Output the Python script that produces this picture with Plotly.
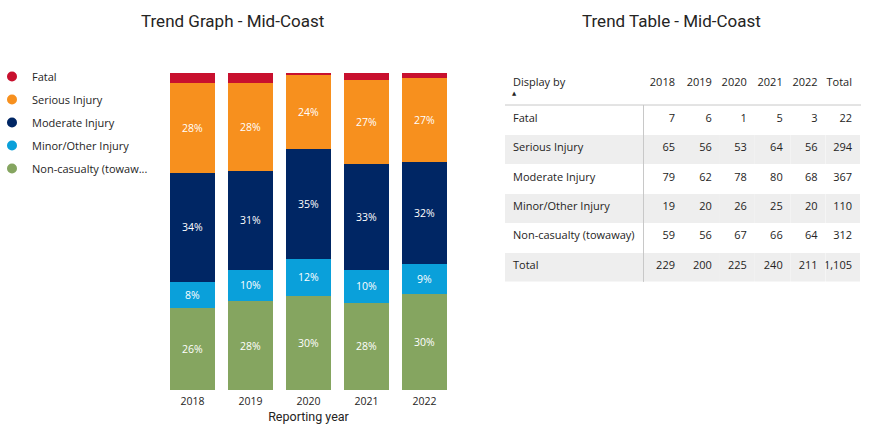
import plotly.graph_objects as go

years = ["2018", "2019", "2020", "2021", "2022"]
categories = ["Fatal", "Serious Injury", "Moderate Injury", "Minor/Other Injury", "Non-casualty\u00a0(towaway)"]
legend_names = ["Fatal", "Serious Injury", "Moderate Injury", "Minor/Other Injury", "Non-casualty (towaw..."]
fatal = [7, 6, 1, 5, 3]
serious = [65, 56, 53, 64, 56]
moderate = [79, 62, 78, 80, 68]
minor = [19, 20, 26, 25, 20]
noncas = [59, 56, 67, 66, 64]
colors = ["#C8102E", "#F7901E", "#002664", "#0AA0DA", "#85A560"]

series = [fatal, serious, moderate, minor, noncas]
totals = [sum(v) for v in zip(*series)]

W, H = 869, 434
FONT = "Open Sans"
TXT = "#252423"

fig = go.Figure()

# stacked bars: bottom-most first
for idx in [4, 3, 2, 1, 0]:
    vals = series[idx]
    txt = [f"{round(v / t * 100)}%" if idx != 0 else "" for v, t in zip(vals, totals)]
    fig.add_trace(go.Bar(
        x=years, y=vals, name=legend_names[idx], marker=dict(color=colors[idx], line=dict(width=0)),
        text=txt, textposition="inside", insidetextanchor="middle",
        textfont=dict(color="white", size=10.5, family=FONT),
        showlegend=False, legendgroup=str(idx),
    ))

# legend entries with circular markers
for idx in range(5):
    fig.add_trace(go.Scatter(
        x=[None], y=[None], mode="markers", name=legend_names[idx],
        marker=dict(color=colors[idx], size=10, symbol="circle"),
        legendgroup=str(idx), showlegend=True,
    ))

# table
header_vals = ["Display by"] + years + ["Total"]
col_first = categories + ["Total"]
cols = [col_first]
for j in range(5):
    cols.append([f"{series[i][j]:,}" for i in range(5)] + [f"{totals[j]:,}"])
cols.append([f"{sum(series[i]):,}" for i in range(5)] + [f"{sum(totals):,}"])
row_fill = ["white", "#EEEEEE", "white", "#EEEEEE", "white", "#EEEEEE"]

tx0, tx1 = 505 / W, 861 / W
ty_top, hdr_h, row_h = 69.5, 36, 29.4
ty_bot = ty_top + hdr_h + 6 * row_h
fig.add_trace(go.Table(
    domain=dict(x=[tx0, tx1], y=[1 - ty_bot / H, 1 - ty_top / H]),
    columnwidth=[138.5, 40, 37, 35, 36, 35, 34.5],
    header=dict(values=header_vals, align=["left"] + ["right"] * 6,
                fill=dict(color="white"), line=dict(width=0, color="white"),
                font=dict(family=FONT, size=11, color=TXT), height=hdr_h),
    cells=dict(values=cols, align=["left"] + ["right"] * 6,
               fill=dict(color=[row_fill] * 7), line=dict(width=0, color="white"),
               font=dict(family=FONT, size=11, color=TXT), height=row_h),
))

line_y = ty_top + hdr_h - 0.5
fig.update_layout(
    width=W, height=H,
    margin=dict(l=0, r=0, t=0, b=0, autoexpand=False),
    paper_bgcolor="white", plot_bgcolor="white",
    barmode="stack", barnorm="percent", bargap=0.22,
    xaxis=dict(domain=[163.5 / W, 453.5 / W], showgrid=False, showline=False, zeroline=False,
               automargin=False, ticklabelstandoff=3,
               tickfont=dict(family=FONT, size=10.5, color=TXT), ticks="",
               title=dict(text="Reporting year", font=dict(family="Roboto", size=12.5, color=TXT), standoff=5)),
    yaxis=dict(domain=[1 - 390 / H, 1 - 73 / H], range=[0, 100], visible=False, automargin=False),
    legend=dict(x=-8 / W, y=1 - 62 / H, xanchor="left", yanchor="top", traceorder="grouped",
                tracegroupgap=4, font=dict(family=FONT, size=11, color=TXT), bgcolor="rgba(0,0,0,0)"),
    showlegend=True,
    annotations=[
        dict(text="Trend Graph - Mid-Coast", x=233 / W, y=1 - 21 / H, xref="paper", yref="paper",
             xanchor="center", yanchor="middle",
             showarrow=False, font=dict(family="Roboto", size=17, color=TXT)),
        dict(text="Trend Table - Mid-Coast", x=671 / W, y=1 - 21 / H, xref="paper", yref="paper",
             xanchor="center", yanchor="middle",
             showarrow=False, font=dict(family="Roboto", size=17, color=TXT)),
        dict(text="▲", x=514.5 / W, y=1 - 93 / H, xref="paper", yref="paper",
             xanchor="center", yanchor="middle",
             showarrow=False, font=dict(family="DejaVu Sans", size=5.5, color=TXT)),
    ],
    shapes=[
        dict(type="line", xref="paper", yref="paper", x0=505 / W, x1=861 / W,
             y0=1 - line_y / H, y1=1 - line_y / H, line=dict(color="#C8C8C8", width=1)),
        dict(type="line", xref="paper", yref="paper", x0=643.5 / W, x1=643.5 / W,
             y0=1 - line_y / H, y1=1 - ty_bot / H, line=dict(color="#C8C8C8", width=1)),
    ],
)

fig.write_html("out.html", post_script="document.body.style.margin='0';",
               config={"displayModeBar": False})
